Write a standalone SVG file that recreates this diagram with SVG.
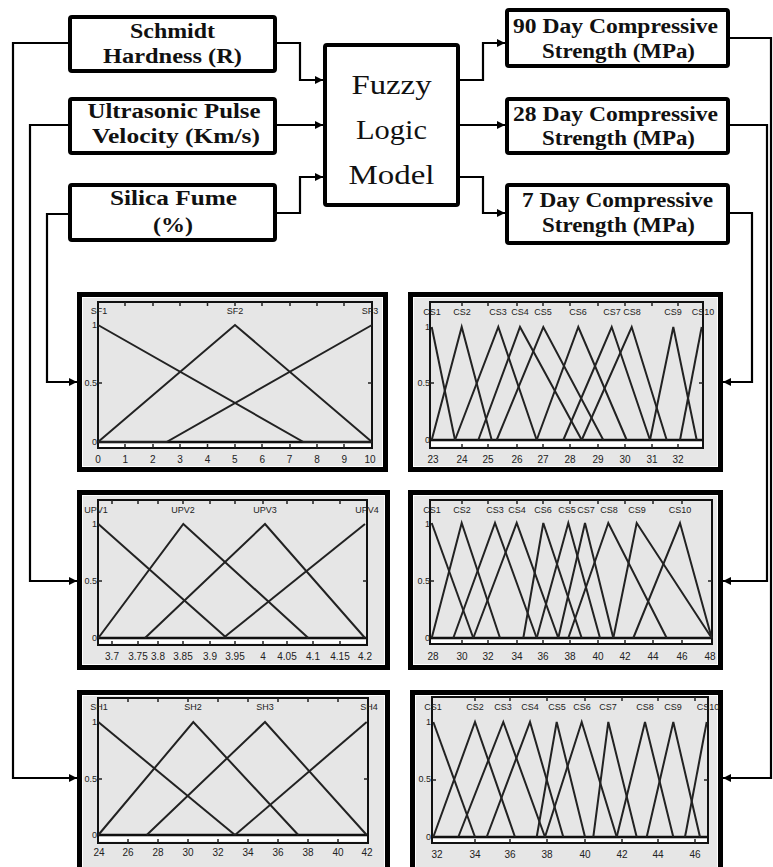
<svg xmlns="http://www.w3.org/2000/svg" width="773" height="867" viewBox="0 0 773 867">
<style>
.box{fill:#fff;stroke:#000;stroke-width:4}
.t{font-family:"Liberation Serif",serif;font-weight:bold;font-size:20px;text-anchor:middle;fill:#111}
.fz{font-family:"Liberation Serif",serif;font-size:27px;text-anchor:middle;fill:#111}
.conn{fill:none;stroke:#000;stroke-width:2.2}
.frame{fill:#fff;stroke:#000;stroke-width:5}
.bg{fill:#e6e6e6}
.ax{fill:#e6e6e6;stroke:#111;stroke-width:2}
.strip{fill:#fff}
.zl{stroke:#111;stroke-width:2.5}
.tk{stroke:#222;stroke-width:1.5;fill:none}
.mf{fill:none;stroke:#222;stroke-width:2}
.lab{font-family:"Liberation Sans Narrow","Liberation Sans",sans-serif;font-size:9px;text-anchor:middle;fill:#222}
.yl{font-family:"Liberation Sans Narrow","Liberation Sans",sans-serif;font-size:9px;text-anchor:end;fill:#222}
.xl{font-family:"Liberation Sans Narrow","Liberation Sans",sans-serif;font-size:10px;text-anchor:middle;fill:#222}
</style>
<defs>
<marker id="ah" viewBox="0 0 10 10" refX="10" refY="5" markerWidth="9" markerHeight="8" markerUnits="userSpaceOnUse" orient="auto">
<path d="M0 0L10 5L0 10z" fill="#000"/>
</marker>
</defs>
<rect width="773" height="867" fill="#fff"/>

<g id="schmidt">
<rect class="box" x="70" y="17" width="205" height="54" rx="2"/>
<text class="t" x="172.5" y="38" textLength="85" lengthAdjust="spacingAndGlyphs">Schmidt</text>
<text class="t" x="172.5" y="63" textLength="139" lengthAdjust="spacingAndGlyphs">Hardness (R)</text>
</g>
<g id="upv">
<rect class="box" x="70" y="99" width="205" height="54" rx="2"/>
<text class="t" x="174" y="118" textLength="173" lengthAdjust="spacingAndGlyphs">Ultrasonic Pulse</text>
<text class="t" x="176" y="143" textLength="168" lengthAdjust="spacingAndGlyphs">Velocity (Km/s)</text>
</g>
<g id="silica">
<rect class="box" x="70" y="185" width="205" height="55" rx="2"/>
<text class="t" x="173.5" y="205" textLength="127" lengthAdjust="spacingAndGlyphs">Silica Fume</text>
<text class="t" x="173" y="232" textLength="40" lengthAdjust="spacingAndGlyphs">(%)</text>
</g>
<g id="fuzzy">
<rect class="box" x="325" y="45" width="133" height="160" rx="2"/>
<text class="fz" x="391.5" y="94" textLength="80" lengthAdjust="spacingAndGlyphs">Fuzzy</text>
<text class="fz" x="391.5" y="139" textLength="71" lengthAdjust="spacingAndGlyphs">Logic</text>
<text class="fz" x="391.5" y="184" textLength="86" lengthAdjust="spacingAndGlyphs">Model</text>
</g>
<g id="cs90">
<rect class="box" x="507" y="10" width="221" height="56" rx="2"/>
<text class="t" x="615.5" y="33" textLength="205" lengthAdjust="spacingAndGlyphs">90 Day Compressive</text>
<text class="t" x="618.5" y="58" textLength="153" lengthAdjust="spacingAndGlyphs">Strength (MPa)</text>
</g>
<g id="cs28">
<rect class="box" x="507" y="99" width="221" height="54" rx="2"/>
<text class="t" x="615.5" y="121" textLength="205" lengthAdjust="spacingAndGlyphs">28 Day Compressive</text>
<text class="t" x="618.5" y="145" textLength="153" lengthAdjust="spacingAndGlyphs">Strength (MPa)</text>
</g>
<g id="cs7">
<rect class="box" x="507" y="185" width="221" height="58" rx="2"/>
<text class="t" x="617.5" y="207" textLength="191" lengthAdjust="spacingAndGlyphs">7 Day Compressive</text>
<text class="t" x="618.5" y="232" textLength="153" lengthAdjust="spacingAndGlyphs">Strength (MPa)</text>
</g>

<!-- Plot: Silica fume MFs -->
<g id="plot-sf">
<rect class="frame" x="79.5" y="294.5" width="306" height="175"/>
<rect class="bg" x="83" y="298" width="299" height="168"/>
<rect class="ax" x="98" y="302" width="274" height="146"/>
<rect class="strip" x="99" y="443.5" width="272" height="3.5"/>
<line class="zl" x1="98" y1="442" x2="372" y2="442"/>
<path class="tk" d="M125 302v4M153 302v4M180 302v4M207.5 302v4M235 302v4M262 302v4M290 302v4M317 302v4M344 302v4M125 444v4M153 444v4M180 444v4M207.5 444v4M235 444v4M262 444v4M290 444v4M317 444v4M344 444v4M98 383h4M368 383h4"/>
<polyline class="mf" points="98,325 303.5,442 372,442"/>
<polyline class="mf" points="98,442 235,325 372,442"/>
<polyline class="mf" points="98,442 166.5,442 372,325"/>
<text class="lab" x="99" y="314">SF1</text>
<text class="lab" x="235" y="314">SF2</text>
<text class="lab" x="370" y="314">SF3</text>
<text class="yl" x="97" y="328">1</text>
<text class="yl" x="97" y="386">0.5</text>
<text class="yl" x="97" y="445">0</text>
<text class="xl" x="98" y="463">0</text>
<text class="xl" x="125.4" y="463">1</text>
<text class="xl" x="152.7" y="463">2</text>
<text class="xl" x="180.1" y="463">3</text>
<text class="xl" x="207.5" y="463">4</text>
<text class="xl" x="234.9" y="463">5</text>
<text class="xl" x="262.2" y="463">6</text>
<text class="xl" x="289.6" y="463">7</text>
<text class="xl" x="317" y="463">8</text>
<text class="xl" x="344.3" y="463">9</text>
<text class="xl" x="370" y="463">10</text>
</g>

<!-- Plot: 7 day CS MFs -->
<g id="plot-cs7">
<rect class="frame" x="410.5" y="294.5" width="310" height="175"/>
<rect class="bg" x="414" y="298" width="303" height="168"/>
<rect class="ax" x="430" y="302" width="273" height="146"/>
<rect class="strip" x="431" y="441.5" width="271" height="5"/>
<line class="zl" x1="430" y1="440" x2="703" y2="440"/>
<path class="tk" d="M462 302v4M488 302v4M517 302v4M543 302v4M570 302v4M598 302v4M625 302v4M652 302v4M678 302v4M462 444v4M488 444v4M517 444v4M543 444v4M570 444v4M598 444v4M625 444v4M652 444v4M678 444v4M430 383h4M699 383h4"/>
<polyline class="mf" points="431.7,327 455,440"/>
<polyline class="mf" points="431.7,440 461.7,327 491.7,440"/>
<polyline class="mf" points="455,440 498.3,327 536.7,440"/>
<polyline class="mf" points="478.3,440 520,327 581.7,440"/>
<polyline class="mf" points="496.7,440 543.3,327 603.3,440"/>
<polyline class="mf" points="536.7,440 578.3,327 626.7,440"/>
<polyline class="mf" points="563.3,440 611.7,327 650,440"/>
<polyline class="mf" points="581.7,440 631.7,327 666.7,440"/>
<polyline class="mf" points="650,440 673.3,327 696.7,440"/>
<polyline class="mf" points="680,440 701.7,327"/>
<text class="lab" x="432" y="315">CS1</text>
<text class="lab" x="462" y="315">CS2</text>
<text class="lab" x="498" y="315">CS3</text>
<text class="lab" x="520" y="315">CS4</text>
<text class="lab" x="543" y="315">CS5</text>
<text class="lab" x="578" y="315">CS6</text>
<text class="lab" x="612" y="315">CS7</text>
<text class="lab" x="632" y="315">CS8</text>
<text class="lab" x="673" y="315">CS9</text>
<text class="lab" x="703" y="315">CS10</text>
<text class="yl" x="430" y="330">1</text>
<text class="yl" x="430" y="386">0.5</text>
<text class="yl" x="430" y="443">0</text>
<text class="xl" x="433" y="463">23</text>
<text class="xl" x="462" y="463">24</text>
<text class="xl" x="488" y="463">25</text>
<text class="xl" x="517" y="463">26</text>
<text class="xl" x="543" y="463">27</text>
<text class="xl" x="570" y="463">28</text>
<text class="xl" x="598" y="463">29</text>
<text class="xl" x="625" y="463">30</text>
<text class="xl" x="652" y="463">31</text>
<text class="xl" x="678" y="463">32</text>
</g>

<!-- Plot: UPV MFs -->
<g id="plot-upv">
<rect class="frame" x="79.5" y="492.5" width="308" height="175"/>
<rect class="bg" x="83" y="496" width="301" height="168"/>
<rect class="ax" x="98" y="500" width="269" height="145"/>
<rect class="strip" x="99" y="639.5" width="267" height="4"/>
<line class="zl" x1="98" y1="638" x2="367" y2="638"/>
<path class="tk" d="M112 500v4M138 500v4M158 500v4M183 500v4M210 500v4M235 500v4M263 500v4M287 500v4M313 500v4M340 500v4M112 641v4M138 641v4M158 641v4M183 641v4M210 641v4M235 641v4M263 641v4M287 641v4M313 641v4M340 641v4M98 581h4M363 581h4"/>
<polyline class="mf" points="98.3,524 226.7,638"/>
<polyline class="mf" points="98.3,638 183.3,524 308.3,638"/>
<polyline class="mf" points="145,638 265,524 365,638"/>
<polyline class="mf" points="223.3,638 365,524"/>
<text class="lab" x="96" y="513">UPV1</text>
<text class="lab" x="183" y="513">UPV2</text>
<text class="lab" x="265" y="513">UPV3</text>
<text class="lab" x="367" y="513">UPV4</text>
<text class="yl" x="97" y="527">1</text>
<text class="yl" x="97" y="584">0.5</text>
<text class="yl" x="97" y="641">0</text>
<text class="xl" x="112" y="660">3.7</text>
<text class="xl" x="138" y="660">3.75</text>
<text class="xl" x="158" y="660">3.8</text>
<text class="xl" x="183" y="660">3.85</text>
<text class="xl" x="210" y="660">3.9</text>
<text class="xl" x="235" y="660">3.95</text>
<text class="xl" x="263" y="660">4</text>
<text class="xl" x="287" y="660">4.05</text>
<text class="xl" x="313" y="660">4.1</text>
<text class="xl" x="340" y="660">4.15</text>
<text class="xl" x="365" y="660">4.2</text>
</g>

<!-- Plot: 28 day CS MFs -->
<g id="plot-cs28">
<rect class="frame" x="410.5" y="492.5" width="310" height="175"/>
<rect class="bg" x="414" y="496" width="303" height="168"/>
<rect class="ax" x="430" y="500" width="282" height="144"/>
<rect class="strip" x="431" y="639.5" width="280" height="3.5"/>
<line class="zl" x1="430" y1="638" x2="712" y2="638"/>
<path class="tk" d="M462 500v4M488 500v4M517 500v4M543 500v4M570 500v4M598 500v4M625 500v4M653 500v4M682 500v4M462 640v4M488 640v4M517 640v4M543 640v4M570 640v4M598 640v4M625 640v4M653 640v4M682 640v4M430 581h4M708 581h4"/>
<polyline class="mf" points="431.7,523 473.3,638"/>
<polyline class="mf" points="431.7,638 461.7,523 500,638"/>
<polyline class="mf" points="453.3,638 495,523 536.7,638"/>
<polyline class="mf" points="473.3,638 516.7,523 558.3,638"/>
<polyline class="mf" points="523.3,638 543.3,523 581.7,638"/>
<polyline class="mf" points="536.7,638 568.3,523 600,638"/>
<polyline class="mf" points="558.3,638 585,523 613.3,638"/>
<polyline class="mf" points="568.3,638 608.3,523 666.7,638"/>
<polyline class="mf" points="613.3,638 636.7,523 711.7,638"/>
<polyline class="mf" points="633.3,638 680,523 711.7,638"/>
<text class="lab" x="432" y="513">CS1</text>
<text class="lab" x="462" y="513">CS2</text>
<text class="lab" x="495" y="513">CS3</text>
<text class="lab" x="517" y="513">CS4</text>
<text class="lab" x="543" y="513">CS6</text>
<text class="lab" x="567" y="513">CS5</text>
<text class="lab" x="586" y="513">CS7</text>
<text class="lab" x="609" y="513">CS8</text>
<text class="lab" x="637" y="513">CS9</text>
<text class="lab" x="680" y="513">CS10</text>
<text class="yl" x="430" y="527">1</text>
<text class="yl" x="430" y="584">0.5</text>
<text class="yl" x="430" y="641">0</text>
<text class="xl" x="433" y="660">28</text>
<text class="xl" x="462" y="660">30</text>
<text class="xl" x="488" y="660">32</text>
<text class="xl" x="517" y="660">34</text>
<text class="xl" x="543" y="660">36</text>
<text class="xl" x="570" y="660">38</text>
<text class="xl" x="598" y="660">40</text>
<text class="xl" x="625" y="660">42</text>
<text class="xl" x="653" y="660">44</text>
<text class="xl" x="682" y="660">46</text>
<text class="xl" x="710" y="660">48</text>
</g>

<!-- Plot: Schmidt hardness MFs -->
<g id="plot-sh">
<rect class="frame" x="79.5" y="692.5" width="308" height="190"/>
<rect class="bg" x="83" y="696" width="301" height="180"/>
<rect class="ax" x="98" y="698" width="270" height="145"/>
<rect class="strip" x="99" y="836.5" width="268" height="5"/>
<line class="zl" x1="98" y1="835" x2="368" y2="835"/>
<path class="tk" d="M128 698v4M158 698v4M188 698v4M218 698v4M248 698v4M278 698v4M308 698v4M338 698v4M128 839v4M158 839v4M188 839v4M218 839v4M248 839v4M278 839v4M308 839v4M338 839v4M98 779h4M364 779h4"/>
<polyline class="mf" points="98.3,722 235,835"/>
<polyline class="mf" points="98.3,835 193.3,722 298.3,835"/>
<polyline class="mf" points="146.7,835 265,722 366.7,835"/>
<polyline class="mf" points="235,835 366.7,722"/>
<text class="lab" x="99" y="710">SH1</text>
<text class="lab" x="193" y="710">SH2</text>
<text class="lab" x="265" y="710">SH3</text>
<text class="lab" x="369" y="710">SH4</text>
<text class="yl" x="97" y="725">1</text>
<text class="yl" x="97" y="782">0.5</text>
<text class="yl" x="97" y="838">0</text>
<text class="xl" x="99" y="856">24</text>
<text class="xl" x="128" y="856">26</text>
<text class="xl" x="158" y="856">28</text>
<text class="xl" x="188" y="856">30</text>
<text class="xl" x="218" y="856">32</text>
<text class="xl" x="248" y="856">34</text>
<text class="xl" x="278" y="856">36</text>
<text class="xl" x="308" y="856">38</text>
<text class="xl" x="338" y="856">40</text>
<text class="xl" x="367" y="856">42</text>
</g>

<!-- Plot: 90 day CS MFs -->
<g id="plot-cs90">
<rect class="frame" x="412.5" y="692.5" width="308" height="190"/>
<rect class="bg" x="416" y="696" width="301" height="180"/>
<rect class="ax" x="432" y="697" width="276" height="146"/>
<rect class="strip" x="433" y="838.5" width="274" height="3.5"/>
<line class="zl" x1="432" y1="837" x2="708" y2="837"/>
<path class="tk" d="M475 697v4M510 697v4M547 697v4M585 697v4M622 697v4M658 697v4M695 697v4M475 839v4M510 839v4M547 839v4M585 839v4M622 839v4M658 839v4M695 839v4M432 780h4M704 780h4"/>
<polyline class="mf" points="433.3,722 475,837"/>
<polyline class="mf" points="433.3,837 475,722 515,837"/>
<polyline class="mf" points="458.3,837 503.3,722 545,837"/>
<polyline class="mf" points="486.7,837 530,722 563.3,837"/>
<polyline class="mf" points="536.7,837 556.7,722 585,837"/>
<polyline class="mf" points="545,837 581.7,722 616.7,837"/>
<polyline class="mf" points="593.3,837 608.3,722 636.7,837"/>
<polyline class="mf" points="616.7,837 645,722 673.3,837"/>
<polyline class="mf" points="646.7,837 673.3,722 700,837"/>
<polyline class="mf" points="685,837 706.7,722"/>
<text class="lab" x="433" y="710">CS1</text>
<text class="lab" x="475" y="710">CS2</text>
<text class="lab" x="503" y="710">CS3</text>
<text class="lab" x="530" y="710">CS4</text>
<text class="lab" x="557" y="710">CS5</text>
<text class="lab" x="582" y="710">CS6</text>
<text class="lab" x="608" y="710">CS7</text>
<text class="lab" x="645" y="710">CS8</text>
<text class="lab" x="673" y="710">CS9</text>
<text class="lab" x="708" y="710">CS10</text>
<text class="yl" x="431" y="725">1</text>
<text class="yl" x="431" y="782">0.5</text>
<text class="yl" x="431" y="840">0</text>
<text class="xl" x="437" y="858">32</text>
<text class="xl" x="475" y="858">34</text>
<text class="xl" x="510" y="858">36</text>
<text class="xl" x="547" y="858">38</text>
<text class="xl" x="585" y="858">40</text>
<text class="xl" x="622" y="858">42</text>
<text class="xl" x="658" y="858">44</text>
<text class="xl" x="695" y="858">46</text>
</g>

<g id="connectors">
<polyline class="conn" points="277,43 300,43 300,80 323,80" marker-end="url(#ah)"/>
<polyline class="conn" points="277,125 323,125" marker-end="url(#ah)"/>
<polyline class="conn" points="277,213 300,213 300,177 323,177" marker-end="url(#ah)"/>
<polyline class="conn" points="460,80 483,80 483,43 505,43" marker-end="url(#ah)"/>
<polyline class="conn" points="460,125 505,125" marker-end="url(#ah)"/>
<polyline class="conn" points="460,177 483,177 483,213 505,213" marker-end="url(#ah)"/>
<polyline class="conn" points="68,43 13,43 13,778 77,778" marker-end="url(#ah)"/>
<polyline class="conn" points="68,125 30,125 30,581 77,581" marker-end="url(#ah)"/>
<polyline class="conn" points="68,214 47,214 47,382 77,382" marker-end="url(#ah)"/>
<polyline class="conn" points="730,38 771,38 771,778 723,778" marker-end="url(#ah)"/>
<polyline class="conn" points="730,125 767,125 767,581 723,581" marker-end="url(#ah)"/>
<polyline class="conn" points="730,213 752,213 752,382 723,382" marker-end="url(#ah)"/>
</g>
</svg>
